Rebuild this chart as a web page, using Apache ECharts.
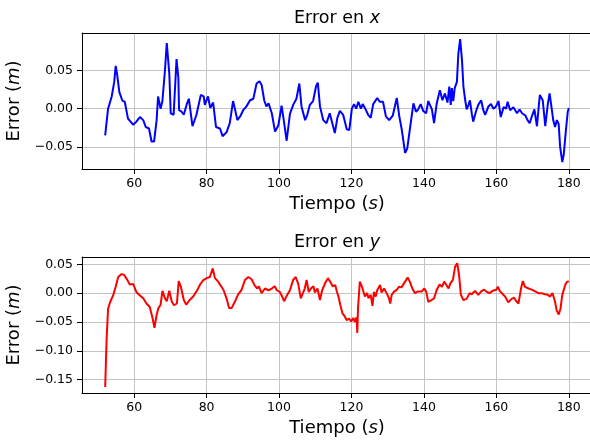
<!DOCTYPE html>
<html>
<head>
<meta charset="utf-8">
<script src="https://cdn.jsdelivr.net/npm/echarts@6/dist/echarts.min.js"></script>
<style>html,body{margin:0;padding:0;background:#fff}#c{width:590px;height:443px}</style>
</head>
<body>
<div id="c"></div>
<script>
// ---- Data ----
const timeX = [52, 52.8, 53.8, 54.5, 54.9, 55.3, 55.9, 56.7, 57.4, 58.3,
  59, 59.7, 60.6, 61.6, 62.5, 63.2, 64.1, 64.8, 65.5, 66.2,
  66.6, 67.3, 67.8, 68.5, 69.0, 69.7, 70.1, 70.9, 71.2, 71.7,
  72.2, 72.4, 73.1, 73.7, 74.6, 75.1, 76.1, 77.2, 78.4, 79.2,
  79.5, 80.4, 81, 81.8, 82.6, 83.7, 84.4, 85.5, 86, 86.4,
  86.9, 87.3, 87.8, 88.5, 89.4, 90.1, 91, 92, 92.9, 93.8,
  94.6, 95.2, 95.9, 96.5, 97.1, 98, 98.9, 99.8, 100.7, 101.3,
  102.1, 103, 103.9, 104.8, 105.6, 106.2, 107.2, 107.8, 108.5, 109.4,
  110.2, 110.7, 111.3, 112.2, 113.1, 114, 114.7, 115.4, 116.1, 116.8,
  117.7, 118.7, 119.4, 120.1, 120.7, 121.3, 121.9, 122.6, 123.1, 123.8,
  124.6, 125.3, 126, 127.1, 127.8, 128.7, 129.5, 130.4, 131.4, 132.5,
  133.2, 133.9, 134.8, 135.4, 136.2, 137.1, 137.8, 138.4, 139.1, 139.8,
  140.6, 141.2, 142.2, 142.8, 143.5, 144.4, 145.1, 145.8, 146.5, 147.0,
  147.4, 147.7, 148.1, 148.5, 149.1, 149.5, 150.0, 150.5, 150.9, 151.4,
  151.8, 152.3, 152.7, 153.2, 153.6, 154.4, 155.0, 155.8, 156.4, 156.9,
  157.8, 158.5, 159.2, 159.9, 160.6, 161.2, 162, 162.7, 163.1, 163.8,
  164.7, 165.7, 166.4, 167.1, 168, 168.6, 169.2, 169.8, 170.5, 171.2,
  171.7, 172.0, 172.8, 173.5, 174.2, 174.7, 175.7, 176.2, 176.7, 177.2,
  177.6, 178.2, 178.6, 179.2, 179.7, 180];
const errorX = [-0.035, 0.0, 0.016, 0.035, 0.056, 0.045, 0.022, 0.011, 0.009, -0.013,
  -0.017, -0.021, -0.017, -0.011, -0.015, -0.024, -0.026, -0.043, -0.043, -0.015,
  0.016, 0.0, 0.010, 0.050, 0.086, 0.046, -0.006, -0.008, -0.010, 0.065,
  0.040, -0.002, -0.004, -0.008, 0.007, 0.013, -0.023, -0.008, 0.018, 0.016,
  0.005, 0.016, 0.001, 0.008, -0.024, -0.026, -0.036, -0.031, -0.033, -0.019,
  -0.017, 0.010, 0.0, -0.015, -0.009, -0.002, 0.003, 0.011, 0.013, 0.033,
  0.036, 0.031, 0.011, 0.003, 0.007, -0.006, -0.030, -0.022, 0.004, -0.015,
  -0.042, -0.007, 0.005, 0.013, 0.033, 0.003, -0.015, -0.008, 0.005, 0.010,
  0.029, 0.034, 0.003, -0.015, -0.019, -0.006, -0.019, -0.032, -0.012, -0.003,
  -0.008, -0.027, -0.028, 0.0, 0.006, 0.0, 0.009, 0.0, 0.006, 0.0,
  -0.008, -0.012, 0.006, 0.014, 0.009, 0.009, -0.010, -0.015, -0.009, 0.014,
  -0.010, -0.028, -0.058, -0.052, -0.024, 0.007, -0.004, -0.001, 0.006, -0.003,
  -0.006, 0.010, -0.001, -0.019, 0.006, 0.024, 0.011, 0.020, 0.008, 0.029,
  0.005, 0.027, 0.010, 0.027, 0.035, 0.072, 0.091, 0.064, 0.029, 0.011,
  -0.001, 0.005, 0.011, -0.006, -0.017, -0.003, 0.005, 0.011, -0.002, -0.008,
  0.003, 0.006, 0.0, 0.003, 0.010, -0.011, 0.002, 0.0, 0.009, -0.002,
  0.002, -0.006, -0.001, -0.006, -0.009, -0.015, -0.019, -0.010, -0.001, -0.023,
  0.003, 0.018, 0.011, -0.023, 0.006, 0.020, -0.015, -0.024, -0.015, -0.020,
  -0.050, -0.070, -0.060, -0.028, -0.004, 0.001];

const timeY = [52, 52.4, 52.8, 53.4, 54.2, 54.9, 55.6, 56.5, 57.2, 57.6,
  58.1, 58.8, 59.7, 60.7, 61.6, 62.5, 63.4, 64.3, 65.1, 65.6,
  66.2, 66.7, 67.3, 67.8, 68.5, 69, 69.7, 70.4, 71, 71.8,
  72.3, 72.9, 73.7, 74.4, 75.3, 76.3, 77.4, 78.1, 79, 80,
  80.9, 81.7, 82.3, 83.2, 84.1, 84.7, 85.5, 86.2, 86.9, 87.8,
  88.7, 89.6, 90.6, 91.5, 92.4, 93.3, 94.0, 94.4, 95.2, 96.1,
  97.1, 98, 98.8, 99.4, 100.2, 100.8, 101.4, 102, 103, 103.9,
  104.6, 105.3, 106, 106.4, 107.1, 107.6, 108.2, 108.8, 109.5, 109.9,
  110.6, 111.3, 111.9, 112.7, 113.5, 114.1, 114.8, 115.5, 116, 116.4,
  116.9, 117.5, 118.1, 118.7, 119.3, 119.9, 120.5, 120.9, 121.4, 121.6,
  121.8, 122.3, 122.9, 123.7, 124.3, 124.7, 125.3, 125.8, 126.2, 126.7,
  127.1, 127.9, 128.3, 129.0, 129.7, 130.3, 130.7, 131.1, 131.8, 132.4,
  133.1, 133.8, 134.8, 135.5, 136.1, 136.8, 137.5, 138.4, 139.4, 140.1,
  140.6, 141.2, 142.1, 142.8, 143.5, 144.3, 145, 145.6, 146.2, 146.8,
  147.3, 148, 148.6, 149.2, 149.7, 150.2, 150.9, 151.8, 152.6, 153.2,
  154.1, 155, 155.8, 156.6, 157.4, 158.1, 159, 160, 160.4, 161,
  161.8, 162.4, 163.3, 164.2, 164.9, 165.5, 166.1, 166.8, 167.3, 167.9,
  168.9, 169.8, 170.7, 171.6, 172.5, 173.4, 174.2, 174.8, 175.5, 176.2,
  176.6, 177.2, 177.7, 178.2, 179, 179.4, 180];
const errorY = [-0.163, -0.079, -0.027, -0.015, -0.004, 0.011, 0.028, 0.033, 0.032, 0.034,
  0.023, 0.015, 0.016, 0.001, -0.004, -0.009, -0.018, -0.024, -0.044, -0.060,
  -0.038, -0.026, -0.020, 0.004, -0.009, -0.014, 0.004, -0.015, -0.021, -0.018,
  0.021, 0.011, -0.012, -0.020, -0.012, -0.006, 0.005, 0.014, 0.022, 0.026,
  0.028, 0.043, 0.026, 0.020, 0.011, 0.005, -0.009, -0.026, -0.026, -0.015,
  -0.002, 0.005, 0.023, 0.028, 0.024, 0.013, 0.008, 0.012, 0.0, 0.008,
  0.005, 0.008, 0.012, 0.005, 0.002, -0.005, -0.014, -0.006, 0.005, 0.023,
  0.028, 0.016, -0.009, -0.012, 0.008, 0.023, 0.002, 0.008, 0.012, 0.001,
  0.008, -0.012, 0.005, 0.017, 0.026, 0.020, 0.012, 0.014, 0.002, -0.006,
  -0.020, -0.035, -0.040, -0.047, -0.044, -0.049, -0.043, -0.050, -0.042, -0.069,
  -0.026, 0.020, 0.011, -0.006, 0.0, -0.009, -0.003, -0.022, 0.002, -0.006,
  0.005, 0.014, 0.001, 0.008, 0.0, -0.008, -0.018, -0.003, 0.003, 0.005,
  0.011, 0.010, 0.020, 0.027, 0.020, 0.008, 0.0, 0.003, 0.003, 0.008,
  0.003, -0.015, -0.012, -0.009, 0.005, 0.015, 0.011, 0.020, 0.014, 0.008,
  0.017, 0.023, 0.046, 0.052, 0.031, -0.003, -0.012, -0.010, 0.0, -0.002,
  0.004, -0.003, 0.003, 0.006, 0.002, 0.0, 0.004, 0.006, 0.011, 0.003,
  -0.002, -0.006, -0.016, -0.010, -0.008, -0.014, -0.018, 0.008, 0.021, 0.011,
  0.008, 0.006, 0.003, 0.0, 0.0, -0.002, -0.003, -0.006, 0.0, -0.015,
  -0.029, -0.037, -0.027, -0.003, 0.014, 0.019, 0.021];

const timeTicks = [60, 80, 100, 120, 140, 160, 180];
const errXTicks = [-0.05, 0.00, 0.05];
const errYTicks = [-0.15, -0.10, -0.05, 0.00, 0.05];

const titleX = 'Error en {i|x}';
const titleY = 'Error en {i|y}';
const xLabel = 'Tiempo ({i|s})';
const yLabel = 'Error ({i|m})';

// ---- Styles ----
const FONT = 'DejaVu Sans';
const spine = {show: true, onZero: false, lineStyle: {color: '#000', width: 1}};
const tick = {show: true, length: 5, inside: false, lineStyle: {color: '#000', width: 1}};
const grid = {show: true, lineStyle: {color: '#c4c4c4', width: 1}};
const tickFont = {fontFamily: FONT, fontSize: 12.5, color: '#000'};
const nameStyle = (size) => ({fontFamily: FONT, fontSize: size, color: '#000',
  rich: {i: {fontFamily: FONT, fontSize: size, fontStyle: 'italic', color: '#000'}}});
const fmt = v => v.toFixed(2).replace('-', '\u2212');

function bottomX(gi) {
  return {type: 'value', gridIndex: gi, position: 'bottom', min: 45.6, max: 186.4,
    axisLine: spine,
    axisTick: Object.assign({customValues: timeTicks}, tick),
    axisLabel: Object.assign({customValues: timeTicks, margin: 8, formatter: v => String(v)}, tickFont),
    splitLine: grid,
    name: xLabel, nameLocation: 'middle', nameGap: 26, nameTextStyle: nameStyle(18)};
}
function topX(gi, title) {
  return {type: 'value', gridIndex: gi, position: 'top', min: 45.6, max: 186.4,
    axisLine: spine, axisTick: {show: false}, axisLabel: {show: false}, splitLine: {show: false},
    name: title, nameLocation: 'middle', nameGap: 6, nameTextStyle: nameStyle(17.5)};
}
function leftY(gi, min, max, ticks) {
  return {type: 'value', gridIndex: gi, min: min, max: max,
    axisLine: spine,
    axisTick: Object.assign({customValues: ticks}, tick),
    axisLabel: Object.assign({customValues: ticks, margin: 9, formatter: fmt}, tickFont),
    splitLine: grid,
    name: yLabel, nameLocation: 'middle', nameRotate: 90, nameGap: 55, nameTextStyle: nameStyle(18)};
}

const chart = echarts.init(document.getElementById('c'), null, {renderer: 'canvas'});
chart.setOption({
  animation: false,
  backgroundColor: '#fff',
  grid: [
    {left: 82, top: 33, width: 510, height: 136, outerBoundsMode: 'none', containLabel: false},
    {left: 82, top: 257, width: 510, height: 136, outerBoundsMode: 'none', containLabel: false}
  ],
  xAxis: [bottomX(0), topX(0, titleX), bottomX(1), topX(1, titleY)],
  yAxis: [leftY(0, -0.079, 0.0991, errXTicks), leftY(1, -0.1733, 0.0627, errYTicks)],
  series: [
    {type: 'line', xAxisIndex: 0, yAxisIndex: 0, showSymbol: false, symbol: 'none',
     lineStyle: {color: '#0000ff', width: 2}, itemStyle: {color: '#0000ff'},
     data: timeX.map((t, i) => [t, errorX[i]])},
    {type: 'line', xAxisIndex: 2, yAxisIndex: 1, showSymbol: false, symbol: 'none',
     lineStyle: {color: '#ff0000', width: 2}, itemStyle: {color: '#ff0000'},
     data: timeY.map((t, i) => [t, errorY[i]])}
  ]
});
</script>
</body>
</html>
